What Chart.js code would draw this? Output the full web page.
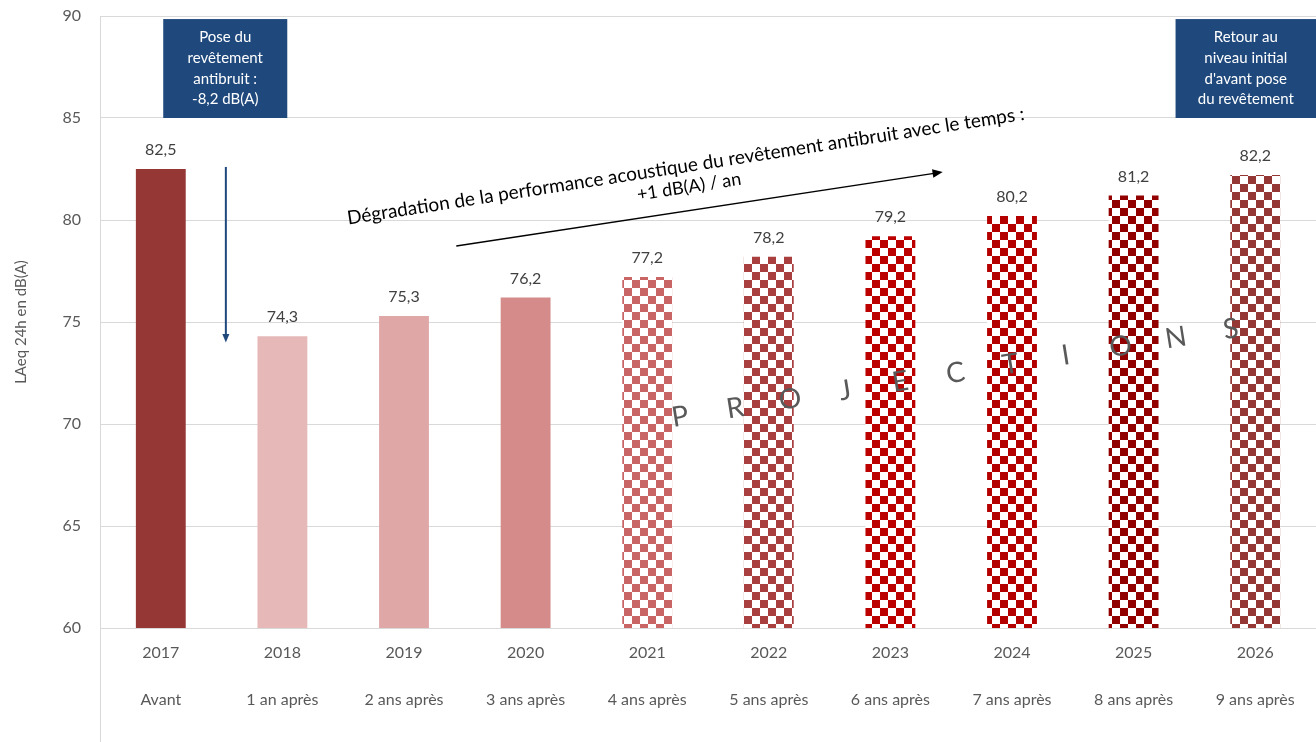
<!DOCTYPE html>
<html>
<head>
    <meta charset="utf-8">
    <title>LAeq 24h en dB(A)</title>
    <script src="https://cdn.jsdelivr.net/npm/chart.js@4"></script>
    <style>
        html, body {
            margin: 0;
            padding: 0;
            background-color: #ffffff;
        }
        #cadre {
            width: 1316px;
            height: 742px;
        }
    </style>
</head>
<body>
    <div id="cadre">
        <canvas id="graphique"></canvas>
    </div>

    <script>
        // Données du graphique
        var annees = ['2017', '2018', '2019', '2020', '2021', '2022', '2023', '2024', '2025', '2026'];
        var periodes = ['Avant', '1 an après', '2 ans après', '3 ans après', '4 ans après',
                        '5 ans après', '6 ans après', '7 ans après', '8 ans après', '9 ans après'];
        var niveaux = [82.5, 74.3, 75.3, 76.2, 77.2, 78.2, 79.2, 80.2, 81.2, 82.2];
        var ticksY = [60, 65, 70, 75, 80, 85, 90];

        // Couleurs (les projections sont en damier)
        var couleurs = ['#953735', '#E6B9B8', '#DFA8A7', '#D48B8A', '#C96665',
                        '#A93F3E', '#BC0000', '#B50000', '#920000', '#953735'];
        var enDamier = [false, false, false, false, true, true, true, true, true, true];

        var police = 'Lato, "Open Sans", sans-serif';
        var gris = '#595959';
        var bleu = '#1F497D';

        var canvas = document.getElementById('graphique');
        var ctx = canvas.getContext('2d');

        function damier(couleur) {
            var c = document.createElement('canvas');
            c.width = 16;
            c.height = 16;
            var g = c.getContext('2d');
            g.fillStyle = '#ffffff';
            g.fillRect(0, 0, 16, 16);
            g.fillStyle = couleur;
            g.fillRect(0, 0, 8, 8);
            g.fillRect(8, 8, 8, 8);
            return ctx.createPattern(c, 'repeat');
        }

        var fonds = couleurs.map(function (c, i) {
            return enDamier[i] ? damier(c) : c;
        });

        function fleche(g, x1, y1, x2, y2, taille) {
            var a = Math.atan2(y2 - y1, x2 - x1);
            g.beginPath();
            g.moveTo(x1, y1);
            g.lineTo(x2 - Math.cos(a) * taille * 0.8, y2 - Math.sin(a) * taille * 0.8);
            g.stroke();
            g.beginPath();
            g.moveTo(x2, y2);
            g.lineTo(x2 - taille * Math.cos(a - 0.4), y2 - taille * Math.sin(a - 0.4));
            g.lineTo(x2 - taille * Math.cos(a + 0.4), y2 - taille * Math.sin(a + 0.4));
            g.closePath();
            g.fill();
        }

        function boite(g, x1, x2, y1, y2, lignes) {
            g.fillStyle = bleu;
            g.fillRect(x1, y1, x2 - x1, y2 - y1);
            g.fillStyle = '#ffffff';
            g.font = '15px ' + police;
            g.textAlign = 'center';
            g.textBaseline = 'middle';
            var h = 20.7;
            var cy = (y1 + y2) / 2 - h * (lignes.length - 1) / 2;
            lignes.forEach(function (l, i) {
                g.fillText(l, (x1 + x2) / 2, cy + i * h);
            });
        }

        var decor = {
            id: 'decor',
            afterDatasetsDraw: function (chart) {
                var g = chart.ctx;
                var meta = chart.getDatasetMeta(0);
                g.save();
                g.fillStyle = '#404040';
                g.font = '16px ' + police;
                g.textAlign = 'center';
                g.textBaseline = 'middle';
                meta.data.forEach(function (bar, i) {
                    g.fillText(niveaux[i].toFixed(1).replace('.', ','), bar.x, bar.y - 19);
                });
                g.restore();
            },
            afterDraw: function (chart) {
                var g = chart.ctx;
                var x = chart.scales.x;
                var y = chart.scales.y;
                var zone = chart.chartArea;
                g.save();

                // axe vertical prolongé jusqu'en bas
                g.strokeStyle = '#D9D9D9';
                g.lineWidth = 1;
                g.beginPath();
                g.moveTo(zone.left + 0.5, zone.top);
                g.lineTo(zone.left + 0.5, chart.height);
                g.stroke();

                // encadrés
                boite(g, x.getPixelForValue(0.02), x.getPixelForValue(1.04), y.getPixelForValue(89.85), y.getPixelForValue(85),
                      ['Pose du', 'revêtement', 'antibruit :', '-8,2 dB(A)']);
                boite(g, x.getPixelForValue(8.345), chart.width, y.getPixelForValue(89.85), y.getPixelForValue(85),
                      ['Retour au', 'niveau initial', "d'avant pose", 'du revêtement']);

                // flèche bleue
                g.strokeStyle = bleu;
                g.fillStyle = bleu;
                g.lineWidth = 2;
                fleche(g, x.getPixelForValue(0.535), y.getPixelForValue(82.6), x.getPixelForValue(0.535), y.getPixelForValue(74.0), 9);

                // flèche de dégradation
                var ax1 = x.getPixelForValue(2.43), ay1 = y.getPixelForValue(78.73);
                var ax2 = x.getPixelForValue(6.43), ay2 = y.getPixelForValue(82.35);
                g.strokeStyle = '#000000';
                g.fillStyle = '#000000';
                g.lineWidth = 1.5;
                fleche(g, ax1, ay1, ax2, ay2, 11);

                var angle = -8.8 * Math.PI / 180;
                g.save();
                g.translate(x.getPixelForValue(4.33), y.getPixelForValue(82.16));
                g.rotate(angle);
                g.font = '19px ' + police;
                g.textAlign = 'center';
                g.textBaseline = 'middle';
                g.fillText('Dégradation de la performance acoustique du revêtement antibruit avec le temps :', 0, -10, 695);
                g.font = '18px ' + police;
                g.fillText('+1 dB(A) / an', 0, 11);
                g.restore();

                // PROJECTIONS
                var mot = 'PROJECTIONS';
                var px1 = x.getPixelForValue(4.27), py1 = y.getPixelForValue(70.35);
                var px2 = x.getPixelForValue(8.8), py2 = y.getPixelForValue(74.65);
                g.fillStyle = gris;
                g.font = '28px ' + police;
                g.textAlign = 'center';
                g.textBaseline = 'middle';
                for (var i = 0; i < mot.length; i++) {
                    var t = i / (mot.length - 1);
                    g.save();
                    g.translate(px1 + (px2 - px1) * t, py1 + (py2 - py1) * t);
                    g.rotate(Math.atan2(py2 - py1, px2 - px1));
                    g.fillText(mot[i], 0, 0);
                    g.restore();
                }

                g.restore();
            }
        };

        new Chart(canvas, {
            type: 'bar',
            data: {
                labels: annees.map(function (a, i) { return [a, periodes[i]]; }),
                datasets: [{
                    data: niveaux,
                    backgroundColor: fonds,
                    borderWidth: 0,
                    barPercentage: 0.41,
                    categoryPercentage: 1
                }]
            },
            options: {
                responsive: true,
                maintainAspectRatio: false,
                animation: false,
                events: [],
                layout: {
                    padding: { top: 16, right: 0, left: 0, bottom: 0 }
                },
                plugins: {
                    legend: { display: false },
                    tooltip: { enabled: false }
                },
                scales: {
                    x: {
                        grid: { display: false, drawTicks: false },
                        border: { display: false },
                        ticks: {
                            color: gris,
                            font: { family: police, size: 16, lineHeight: '47px' },
                            padding: 1,
                            maxRotation: 0,
                            autoSkip: false
                        },
                        afterFit: function (scale) { scale.height = 114; }
                    },
                    y: {
                        min: 60,
                        max: 90,
                        afterBuildTicks: function (scale) {
                            scale.ticks = ticksY.map(function (v) { return { value: v }; });
                        },
                        grid: { color: '#D9D9D9', lineWidth: 1, drawTicks: false },
                        border: { display: false },
                        ticks: {
                            color: gris,
                            font: { family: police, size: 16 },
                            padding: 19
                        },
                        title: {
                            display: true,
                            text: 'LAeq 24h en dB(A)',
                            color: gris,
                            font: { family: police, size: 15 },
                            padding: { top: 12, bottom: 0 }
                        },
                        afterFit: function (scale) {
                            scale.width = 100;
                            scale.paddingTop = 0;
                            scale.paddingBottom = 0;
                        }
                    }
                }
            },
            plugins: [decor]
        });
    </script>
</body>
</html>
